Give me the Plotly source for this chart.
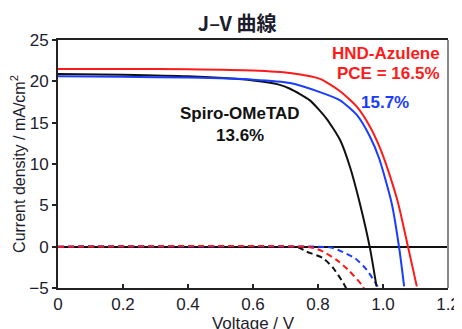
import plotly.graph_objects as go

# Light J-V curves (Voltage / V, Current density / mA cm^-2)
v_red = [0.0, 0.2, 0.4, 0.6, 0.714, 0.806, 0.868, 0.92, 0.96, 0.99, 1.016, 1.047, 1.078, 1.104]
j_red = [21.5, 21.5, 21.45, 21.3, 21.0, 20.3, 18.8, 16.9, 14.5, 12.0, 9.2, 5.2, -0.2, -4.8]

v_blue = [0.0, 0.2, 0.4, 0.6, 0.714, 0.806, 0.868, 0.92, 0.96, 0.988, 1.027, 1.05, 1.065]
j_blue = [20.6, 20.55, 20.45, 20.2, 19.8, 18.7, 17.7, 15.9, 13.3, 10.7, 5.2, -0.2, -4.8]

v_black = [0.0, 0.2, 0.4, 0.6, 0.68, 0.714, 0.775, 0.826, 0.868, 0.898, 0.929, 0.96, 0.98]
j_black = [20.9, 20.8, 20.6, 20.1, 19.6, 19.1, 17.7, 15.5, 12.9, 9.7, 5.2, -0.2, -4.8]

# Dark curves
v_red_d = [0.0, 0.76, 0.79, 0.816, 0.857, 0.893, 0.934, 0.945]
j_red_d = [0.0, 0.0, -0.2, -0.6, -1.6, -2.8, -4.6, -5.3]

v_blue_d = [0.0, 0.80, 0.84, 0.868, 0.914, 0.95, 0.98, 0.99]
j_blue_d = [0.0, 0.0, -0.1, -0.5, -1.4, -2.8, -4.6, -5.3]

v_black_d = [0.0, 0.70, 0.74, 0.765, 0.816, 0.847, 0.878, 0.89]
j_black_d = [0.0, 0.0, -0.1, -0.6, -1.4, -2.6, -4.4, -5.3]

x_ticks = [0, 0.2, 0.4, 0.6, 0.8, 1.0, 1.2]
x_tick_labels = ["0", "0.2", "0.4", "0.6", "0.8", "1.0", "1.2"]
y_ticks = [-5, 0, 5, 10, 15, 20, 25]

RED = "#ff1a1a"
BLUE = "#1a3cff"
BLACK = "#111111"
FONT = "Arial, Liberation Sans, Noto Sans CJK JP, sans-serif"

fig = go.Figure()

for v, j, c in [(v_black_d, j_black_d, BLACK), (v_blue_d, j_blue_d, BLUE), (v_red_d, j_red_d, RED)]:
    fig.add_trace(go.Scatter(x=v, y=j, mode="lines",
                             line=dict(color=c, width=2, dash="6px,4px", shape="spline", smoothing=0.6),
                             showlegend=False, hoverinfo="skip"))

for v, j, c in [(v_black, j_black, BLACK), (v_blue, j_blue, BLUE), (v_red, j_red, RED)]:
    fig.add_trace(go.Scatter(x=v, y=j, mode="lines",
                             line=dict(color=c, width=2, shape="spline", smoothing=0.6),
                             showlegend=False, hoverinfo="skip"))

ann_font = dict(family=FONT, size=17)
fig.add_annotation(x=1.18, y=23.4, text="<b>HND-Azulene</b>", showarrow=False,
                   xanchor="right", yanchor="middle", font=dict(**ann_font, color=RED))
fig.add_annotation(x=1.18, y=21.0, text="<b>PCE = 16.5%</b>", showarrow=False,
                   xanchor="right", yanchor="middle", font=dict(**ann_font, color=RED))
fig.add_annotation(x=1.006, y=17.4, text="<b>15.7%</b>", showarrow=False,
                   xanchor="center", yanchor="middle", font=dict(**ann_font, color=BLUE))
fig.add_annotation(x=0.56, y=16.1, text="<b>Spiro-OMeTAD</b>", showarrow=False,
                   xanchor="center", yanchor="middle", font=dict(**ann_font, color=BLACK))
fig.add_annotation(x=0.56, y=13.5, text="<b>13.6%</b>", showarrow=False,
                   xanchor="center", yanchor="middle", font=dict(**ann_font, color=BLACK))

# right frame line (gray)
fig.add_shape(type="line", xref="paper", yref="paper", x0=1, x1=1, y0=0, y1=1,
              line=dict(color="#888888", width=2))

fig.update_layout(
    width=462, height=329,
    margin=dict(l=50, r=22, t=32, b=49),
    paper_bgcolor="white", plot_bgcolor="white",
    font=dict(family=FONT, size=17, color="#1c1c2c"),
    title=dict(text="<b>J–V 曲線</b>", x=0.496, xanchor="center", xref="container",
               y=0.951, yanchor="middle", yref="container",
               font=dict(family="Noto Sans CJK JP, Arial, sans-serif", size=20, color="#1c1c2c")),
    showlegend=False,
)
fig.update_xaxes(range=[0, 1.2], tickvals=x_ticks, ticktext=x_tick_labels, automargin=False,
                 showgrid=False, zeroline=False,
                 showline=True, linecolor="#222222", linewidth=2, mirror=True,
                 ticks="inside", ticklen=4, tickcolor="#222222", tickwidth=1.5,
                 tickfont=dict(size=17),
                 title=dict(text="Voltage / V", font=dict(size=17), standoff=4))
fig.update_yaxes(range=[-5, 25], tickvals=y_ticks, automargin=False,
                 showgrid=False, zeroline=True, zerolinecolor="#111111", zerolinewidth=2,
                 showline=True, linecolor="#222222", linewidth=2,
                 ticks="outside", ticklen=4, tickcolor="#222222", tickwidth=1.5,
                 tickfont=dict(size=17),
                 title=dict(text="Current density / mA/cm<sup>2</sup>", font=dict(size=16), standoff=6))

fig.write_html("out.html")
